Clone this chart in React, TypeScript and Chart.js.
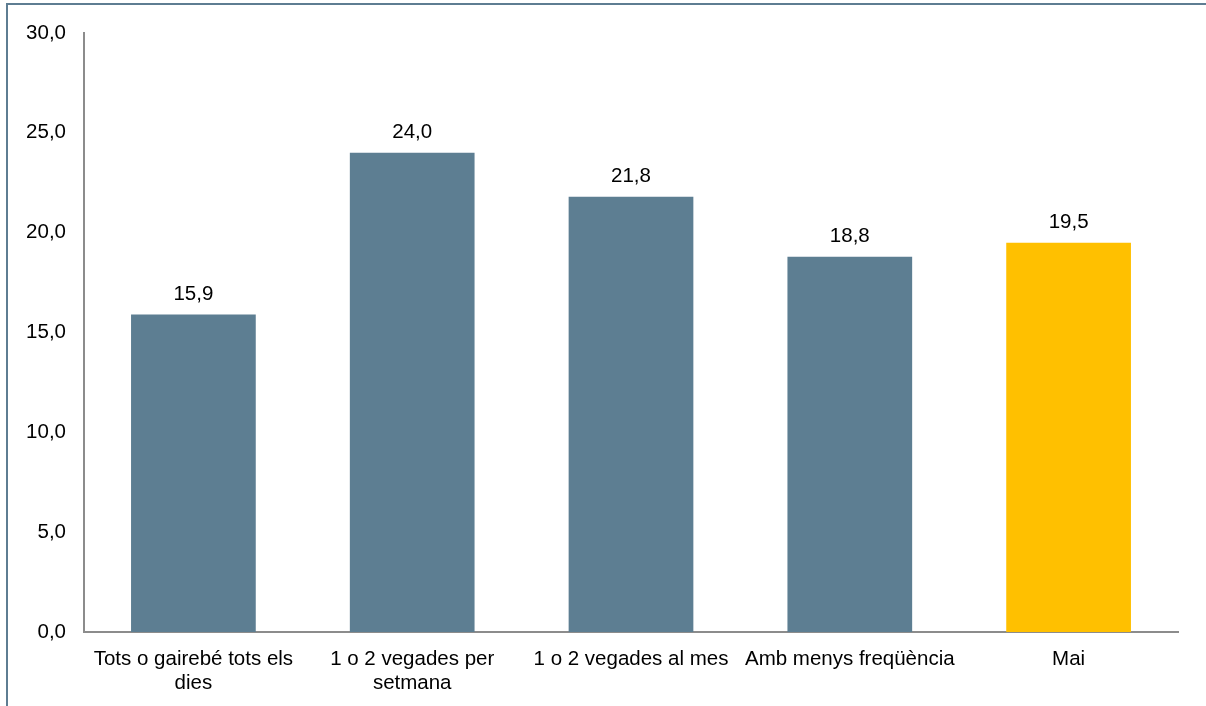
import React, { useEffect, useRef } from "react";
import { Chart, registerables } from "chart.js";

Chart.register(...registerables);

const categories: (string | string[])[] = [
  ["Tots o gairebé tots els", "dies"],
  ["1 o 2 vegades per", "setmana"],
  "1 o 2 vegades al mes",
  "Amb menys freqüència",
  "Mai",
];
const values: number[] = [15.9, 24.0, 21.8, 18.8, 19.5];
const barColors: string[] = ["#5d7e92", "#5d7e92", "#5d7e92", "#5d7e92", "#ffc000"];
const yTicks: number[] = [0, 5, 10, 15, 20, 25, 30];

const FONT = "'Liberation Sans', Arial, sans-serif";
const fmt = (v: number) => v.toFixed(1).replace(".", ",");

const labelPlugin = {
  id: "valueLabels",
  afterDatasetsDraw(chart: any) {
    const ctx = chart.ctx;
    const meta = chart.getDatasetMeta(0);
    ctx.save();
    ctx.font = `20.5px ${FONT}`;
    ctx.fillStyle = "#000";
    ctx.textAlign = "center";
    ctx.textBaseline = "alphabetic";
    meta.data.forEach((bar: any, i: number) => {
      ctx.fillText(fmt(values[i]), bar.x, bar.y - 15);
    });
    ctx.restore();
  },
};

export default function App() {
  const ref = useRef<HTMLCanvasElement | null>(null);
  useEffect(() => {
    if (!ref.current) return;
    const chart = new Chart(ref.current, {
      type: "bar",
      data: {
        labels: categories,
        datasets: [
          {
            data: values,
            backgroundColor: barColors,
            categoryPercentage: 1,
            barPercentage: 0.57,
          },
        ],
      },
      options: {
        animation: false,
        responsive: false,
        maintainAspectRatio: false,
        layout: { padding: { left: 0, right: 28, top: 33, bottom: 0 } },
        plugins: { legend: { display: false }, tooltip: { enabled: false } },
        scales: {
          x: {
            grid: { display: false, drawTicks: false },
            border: { display: true, color: "#8c8c8c", width: 2 },
            ticks: {
              color: "#000",
              padding: 16,
              maxRotation: 0,
              autoSkip: false,
              font: { family: FONT, size: 20.5, lineHeight: 1.15 },
            },
            afterFit: (s: any) => {
              s.height = 74;
            },
          },
          y: {
            min: 0,
            max: 30,
            grid: { display: false, drawTicks: false },
            border: { display: true, color: "#8c8c8c", width: 2 },
            afterBuildTicks: (s: any) => {
              s.ticks = yTicks.map((v) => ({ value: v }));
            },
            ticks: {
              color: "#000",
              padding: 18,
              callback: (v: any) => fmt(Number(v)),
              font: { family: FONT, size: 20.5 },
            },
            afterFit: (s: any) => {
              s.width = 84;
            },
          },
        },
      },
      plugins: [labelPlugin],
    });
    return () => chart.destroy();
  }, []);

  return (
    <div style={{ position: "fixed", left: 0, top: 0, width: 1206, height: 706, background: "#fff" }}>
      <div
        style={{
          position: "absolute",
          left: 6,
          top: 3,
          right: 0,
          bottom: 0,
          borderLeft: "2px solid #5e7d92",
          borderTop: "2px solid #5e7d92",
        }}
      />
      <canvas ref={ref} width={1206} height={706} style={{ position: "absolute", left: 0, top: 0 }} />
    </div>
  );
}
